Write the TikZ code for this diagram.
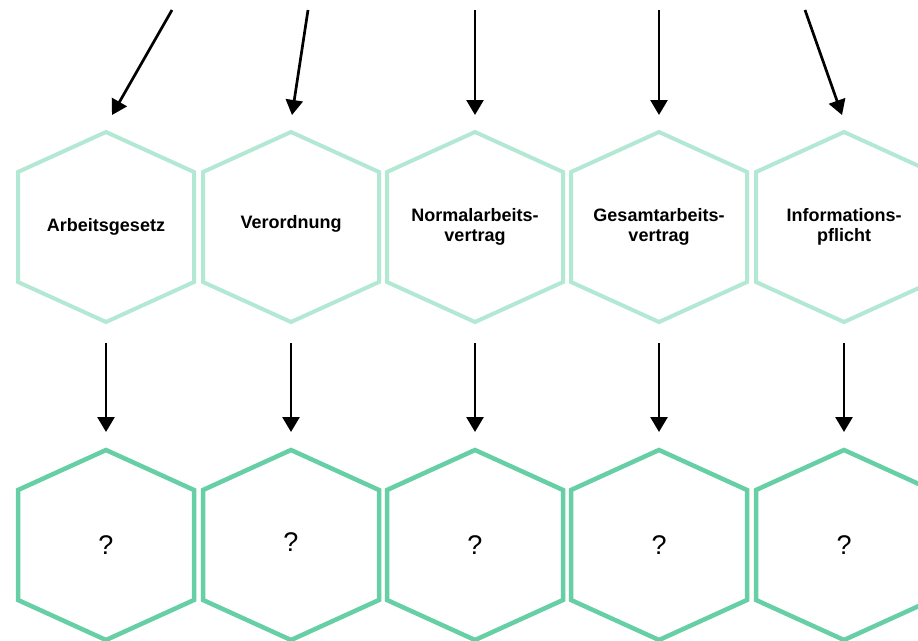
\documentclass[tikz,border=0pt]{standalone}
\usepackage{fontspec}
\setmainfont{Liberation Sans}
\usetikzlibrary{arrows.meta}

\definecolor{hexlight}{HTML}{B3E8D4}
\definecolor{hexdark}{HTML}{66CFA5}

\tikzset{
  hexup/.style={draw=hexlight,line width=4pt},
  hexdown/.style={draw=hexdark,line width=4.5pt},
  term/.style={font=\bfseries\fontsize{18}{20}\selectfont,align=center,inner sep=0pt},
  ask/.style={font=\fontsize{27}{30}\selectfont,inner sep=0pt},
  pointer/.style={-{Triangle[length=15pt,width=17pt]},line width=2.7pt},
}

\newcommand{\hexa}[2]{\draw[#1,shift={(#2)}] (0,-95) -- (88,-55) -- (88,55) -- (0,95) -- (-88,55) -- (-88,-55) -- cycle;}

\begin{document}
\begin{tikzpicture}[x=1pt,y=-1pt]
        \useasboundingbox (0,0) rectangle (918,640);
        \clip (0,0) rectangle (918,640);
        % hexagon centres
        \coordinate (H1) at (106,227);
        \coordinate (H2) at (291,227);
        \coordinate (H3) at (475,227);
        \coordinate (H4) at (659,227);
        \coordinate (H5) at (844,227);
        \coordinate (Q1) at (106,545);
        \coordinate (Q2) at (291,545);
        \coordinate (Q3) at (475,545);
        \coordinate (Q4) at (659,545);
        \coordinate (Q5) at (844,545);
        % loose arrow starts
        \coordinate (in1) at (172,10);
        \coordinate (in2) at (308,10);
        \coordinate (in3) at (475,10);
        \coordinate (in4) at (659,10);
        \coordinate (in5) at (805,10);
        % upper row
        \hexa{hexup}{H1}
        \hexa{hexup}{H2}
        \hexa{hexup}{H3}
        \hexa{hexup}{H4}
        \hexa{hexup}{H5}
        \node[term] (law) at (H1) {Arbeitsgesetz};
        \node[term,yshift=3pt] (decree) at (H2) {Verordnung};
        \node[term] (nav) at (H3) {Normalarbeits-\\vertrag};
        \node[term] (gav) at (H4) {Gesamtarbeits-\\vertrag};
        \node[term] (info) at (H5) {Informations-\\pflicht};
        % lower row
        \hexa{hexdown}{Q1}
        \hexa{hexdown}{Q2}
        \hexa{hexdown}{Q3}
        \hexa{hexdown}{Q4}
        \hexa{hexdown}{Q5}
        \node[ask] (ask1) at (Q1) {?};
        \node[ask,yshift=3pt] (ask2) at (Q2) {?};
        \node[ask] (ask3) at (Q3) {?};
        \node[ask] (ask4) at (Q4) {?};
        \node[ask] (ask5) at (Q5) {?};
        % arrows
        \draw[pointer] (in1) -- ([xshift=6pt,yshift=112pt]H1);
        \draw[pointer] (in2) -- ([xshift=1pt,yshift=112pt]H2);
        \draw[pointer] (in3) -- ([yshift=112pt]H3);
        \draw[pointer] (in4) -- ([yshift=112pt]H4);
        \draw[pointer] (in5) -- ([xshift=-2pt,yshift=112pt]H5);
        \draw[pointer] ([yshift=-116pt]H1) -- ([yshift=113pt]Q1);
        \draw[pointer] ([yshift=-116pt]H2) -- ([yshift=113pt]Q2);
        \draw[pointer] ([yshift=-116pt]H3) -- ([yshift=113pt]Q3);
        \draw[pointer] ([yshift=-116pt]H4) -- ([yshift=113pt]Q4);
        \draw[pointer] ([yshift=-116pt]H5) -- ([yshift=113pt]Q5);
      \end{tikzpicture}
\end{document}
